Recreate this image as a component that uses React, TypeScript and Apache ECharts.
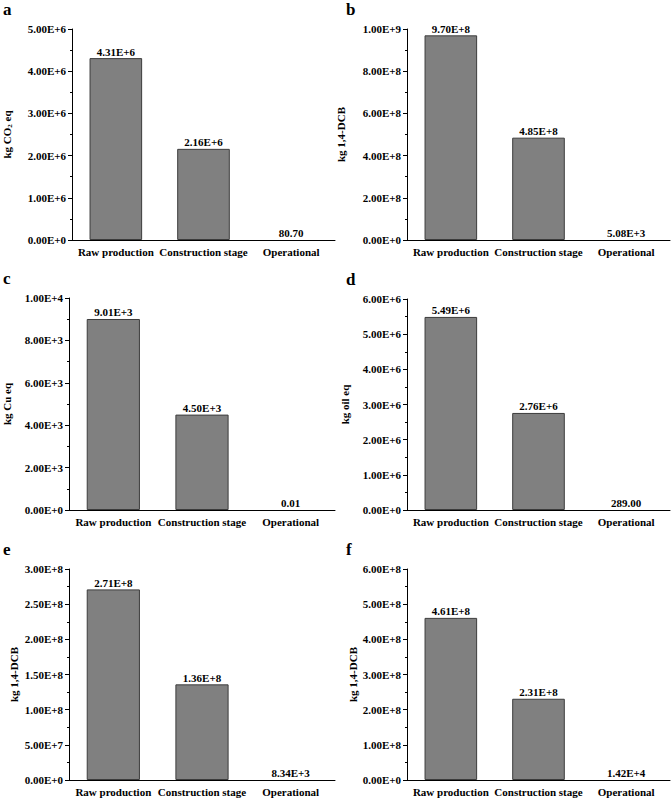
import React, { useEffect, useRef } from "react";
import * as echarts from "echarts";

// Life-cycle stages shared by every panel
const stages = ["Raw production", "Construction stage", "Operational"];

// Impact totals per stage, one array per indicator
const gwp = [4.31e6, 2.16e6, 80.7];
const htpA = [9.7e8, 4.85e8, 5.08e3];
const cu = [9.01e3, 4.5e3, 0.01];
const oil = [5.49e6, 2.76e6, 289.0];
const htpB = [2.71e8, 1.36e8, 8.34e3];
const htpC = [4.61e8, 2.31e8, 1.42e4];

// Panel letters, units and value-axis ranges
const panelLetters = ["a", "b", "c", "d", "e", "f"];
const unitNames = ["kg CO{sub|2} eq", "kg 1,4-DCB", "kg Cu eq", "kg oil eq", "kg 1,4-DCB", "kg 1,4-DCB"];
const axisMax = [5e6, 1e9, 1e4, 6e6, 3e8, 6e8];
const axisStep = [1e6, 2e8, 2e3, 1e6, 5e7, 1e8];
const seriesData = [gwp, htpA, cu, oil, htpB, htpC];

const FONT = "'Liberation Serif', 'Times New Roman', serif";

const sci = (v: number) => v.toExponential(2).toUpperCase();
const valueText = (v: number) => (v >= 1000 ? sci(v) : v.toFixed(2));

// Plot rectangles in pixels
const grids = [
  { left: 69, top: 29, width: 266, height: 211 },
  { left: 407, top: 29, width: 263, height: 211 },
  { left: 69, top: 298, width: 266, height: 212 },
  { left: 407, top: 299, width: 263, height: 211 },
  { left: 69, top: 569, width: 266, height: 211 },
  { left: 407, top: 569, width: 263, height: 211 },
];
const nameGaps = [59, 61, 57, 57, 50, 48];

export default function App() {
  const ref = useRef<HTMLDivElement>(null);

  useEffect(() => {
    if (!ref.current) return;
    const chart = echarts.init(ref.current, null, { renderer: "svg" });

    const axisText = { fontFamily: FONT, fontWeight: "bold" as const, fontSize: 11, color: "#000" };

    const option: any = {
      animation: false,
      backgroundColor: "#fff",
      grid: grids.map((g) => ({ ...g, containLabel: false })),
      xAxis: grids.map((_, i) => ({
        type: "category",
        gridIndex: i,
        data: stages,
        axisLine: { lineStyle: { color: "#000", width: 1 } },
        axisTick: { alignWithLabel: true, length: 3, lineStyle: { color: "#000" } },
        axisLabel: { ...axisText, margin: 6, interval: 0 },
      })),
      yAxis: grids.map((_, i) => ({
        type: "value",
        gridIndex: i,
        min: 0,
        max: axisMax[i],
        interval: axisStep[i],
        name: unitNames[i],
        nameLocation: "middle",
        nameGap: nameGaps[i],
        nameTextStyle: {
          ...axisText,
          rich: { sub: { fontFamily: FONT, fontWeight: "bold", fontSize: 7, verticalAlign: "bottom", padding: [6, 0, 0, 0] } },
        },
        axisLine: { show: true, lineStyle: { color: "#000", width: 1 } },
        axisTick: { show: true, length: 4, lineStyle: { color: "#000" } },
        minorTick: { show: true, splitNumber: 2, length: 2, lineStyle: { color: "#000" } },
        splitLine: { show: false },
        axisLabel: { ...axisText, margin: 6, formatter: (v: number) => sci(v) },
      })),
      series: seriesData.map((d, i) => ({
        type: "bar",
        xAxisIndex: i,
        yAxisIndex: i,
        // bars far below one pixel tall get no outline
        data: d.map((v) => ({
          value: v,
          itemStyle: v / axisMax[i] < 0.003 ? { borderWidth: 0 } : undefined,
        })),
        barWidth: "60%",
        itemStyle: { color: "#808080", borderColor: "#3c3c3c", borderWidth: 1 },
        label: {
          show: true,
          position: "top",
          distance: 1,
          ...axisText,
          formatter: (p: any) => valueText(p.value),
        },
      })),
      graphic: panelLetters.map((t, i) => ({
        type: "text",
        left: i % 2 === 0 ? 3 : 346,
        top: Math.max(1, grids[i].top - 28),
        style: { text: t, font: `bold 17px ${FONT}`, fill: "#000" },
      })),
    };

    chart.setOption(option);
    return () => chart.dispose();
  }, []);

  return (
    <div
      ref={ref}
      style={{ position: "absolute", left: 0, top: 0, width: 671, height: 799, background: "#fff" }}
    />
  );
}
